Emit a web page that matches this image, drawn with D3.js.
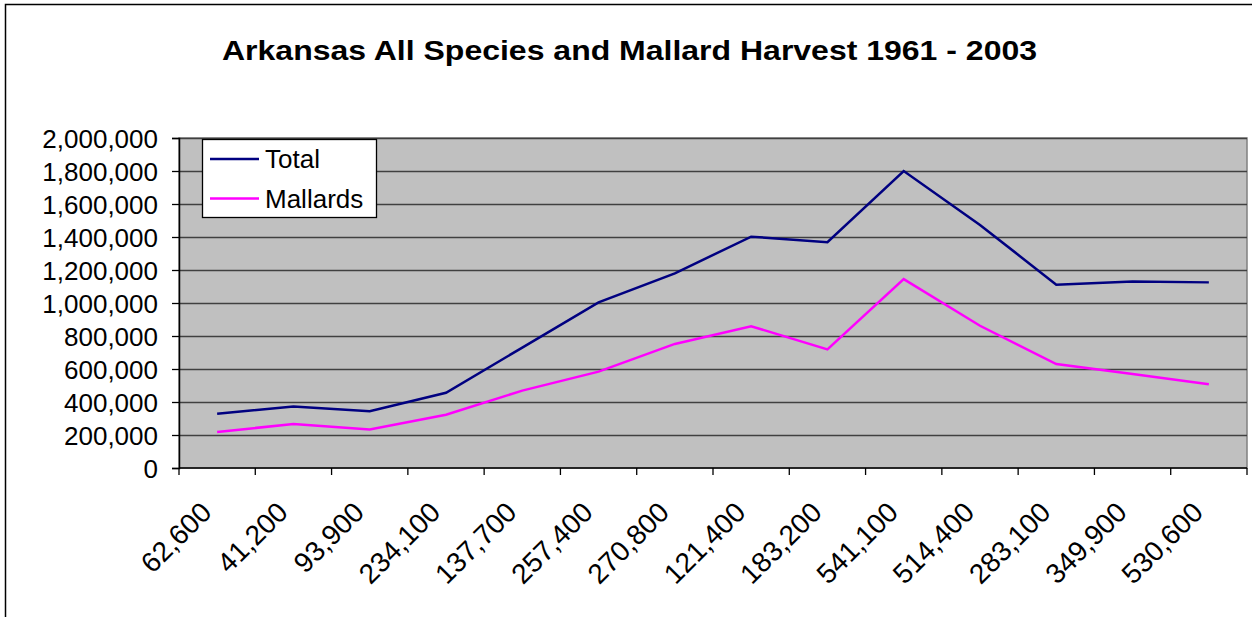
<!DOCTYPE html>
<html>
<head>
<meta charset="utf-8">
<script src="https://cdn.jsdelivr.net/npm/d3@7"></script>
<style>
  html, body { margin: 0; padding: 0; background: #fff; }
  svg { display: block; font-family: "Liberation Sans", Arial, sans-serif; }
</style>
</head>
<body>
<svg id="chart" width="1252" height="617"></svg>
<script>
const categories = ["62,600","41,200","93,900","234,100","137,700","257,400","270,800","121,400","183,200","541,100","514,400","283,100","349,900","530,600"];
const totalValues = [329000, 372000, 344000, 456000, 730000, 1004000, 1180000, 1402000, 1368000, 1800000, 1473000, 1111000, 1131000, 1125000];
const mallardValues = [218000, 267000, 234000, 323000, 469000, 584000, 752000, 859000, 719000, 1145000, 862000, 630000, 570000, 507000];
const yTicks = [0, 200000, 400000, 600000, 800000, 1000000, 1200000, 1400000, 1600000, 1800000, 2000000];
const seriesNames = ["Total", "Mallards"];
const seriesColors = ["#000080", "#FF00FF"];

const svg = d3.select("#chart");
const plot = { left: 179, right: 1247, top: 138, bottom: 468 };

// outer chart border
svg.append("rect")
  .attr("x", 5.5).attr("y", 4.5)
  .attr("width", 1260).attr("height", 700)
  .attr("fill", "#fff").attr("stroke", "#000").attr("stroke-width", 1.5);

// title
svg.append("text")
  .attr("x", 629.5).attr("y", 59.5)
  .attr("text-anchor", "middle")
  .attr("font-size", 28).attr("font-weight", "bold")
  .attr("textLength", 815).attr("lengthAdjust", "spacingAndGlyphs")
  .attr("fill", "#000")
  .text("Arkansas All Species and Mallard Harvest 1961 - 2003");

const x = d3.scaleBand().domain(categories).range([plot.left, plot.right]).padding(0);
const y = d3.scaleLinear().domain([0, 2000000]).range([plot.bottom, plot.top]);

// plot background
svg.append("rect")
  .attr("x", plot.left).attr("y", plot.top)
  .attr("width", plot.right - plot.left).attr("height", plot.bottom - plot.top)
  .attr("fill", "#C0C0C0").attr("stroke", "#808080").attr("stroke-width", 1.5);

// gridlines
svg.append("g")
  .selectAll("line")
  .data(yTicks.filter(d => d > 0))
  .join("line")
  .attr("x1", plot.left).attr("x2", plot.right)
  .attr("y1", d => Math.round(y(d)) + 0.5).attr("y2", d => Math.round(y(d)) + 0.5)
  .attr("stroke", "#404040").attr("stroke-width", 1.3);

// y axis
const fmt = d3.format(",");
const yAxis = svg.append("g")
  .attr("transform", `translate(${plot.left},0)`)
  .call(d3.axisLeft(y).tickValues(yTicks).tickFormat(fmt).tickSize(7).tickPadding(14));
yAxis.select(".domain").attr("stroke", "#000").attr("stroke-width", 1.5);
yAxis.selectAll(".tick line").attr("stroke", "#000").attr("stroke-width", 1.3);
yAxis.selectAll(".tick text")
  .attr("font-size", 26).attr("font-family", "Liberation Sans, Arial, sans-serif")
  .attr("fill", "#000").attr("dy", "0.36em");

// x axis (ticks at band boundaries)
const xAxisG = svg.append("g").attr("transform", `translate(0,${plot.bottom})`);
xAxisG.append("line")
  .attr("x1", plot.left).attr("x2", plot.right)
  .attr("y1", 0).attr("y2", 0)
  .attr("stroke", "#000").attr("stroke-width", 1.5);
const boundaries = categories.map(c => x(c)).concat([plot.right]);
xAxisG.selectAll("line.tk")
  .data(boundaries)
  .join("line").attr("class", "tk")
  .attr("x1", d => d).attr("x2", d => d)
  .attr("y1", 0).attr("y2", 7)
  .attr("stroke", "#000").attr("stroke-width", 1.3);
xAxisG.selectAll("text.lbl")
  .data(categories)
  .join("text").attr("class", "lbl")
  .attr("transform", d => `translate(${x(d) + x.bandwidth() / 2 - 4},46) rotate(-45)`)
  .attr("text-anchor", "end")
  .attr("font-size", 28)
  .attr("fill", "#000")
  .text(d => d);

// lines
const series = [totalValues, mallardValues];
const line = d3.line()
  .x((d, i) => x(categories[i]) + x.bandwidth() / 2)
  .y(d => y(d));
svg.append("g")
  .selectAll("path")
  .data(series)
  .join("path")
  .attr("d", d => line(d))
  .attr("fill", "none")
  .attr("stroke", (d, i) => seriesColors[i])
  .attr("stroke-width", 2.5)
  .attr("stroke-linejoin", "miter");

// legend
const lg = svg.append("g");
lg.append("rect")
  .attr("x", 202.5).attr("y", 139.5).attr("width", 174).attr("height", 78)
  .attr("fill", "#fff").attr("stroke", "#000").attr("stroke-width", 1.3);
const items = lg.selectAll("g.item")
  .data(seriesNames)
  .join("g").attr("class", "item")
  .attr("transform", (d, i) => `translate(0,${159 + i * 39.5})`);
items.append("line")
  .attr("x1", 210).attr("x2", 259).attr("y1", 0).attr("y2", 0)
  .attr("stroke", (d, i) => seriesColors[i]).attr("stroke-width", 2.5);
items.append("text")
  .attr("x", 265).attr("y", 0).attr("dy", "0.36em")
  .attr("font-size", 26).attr("fill", "#000")
  .text(d => d);
</script>
</body>
</html>
